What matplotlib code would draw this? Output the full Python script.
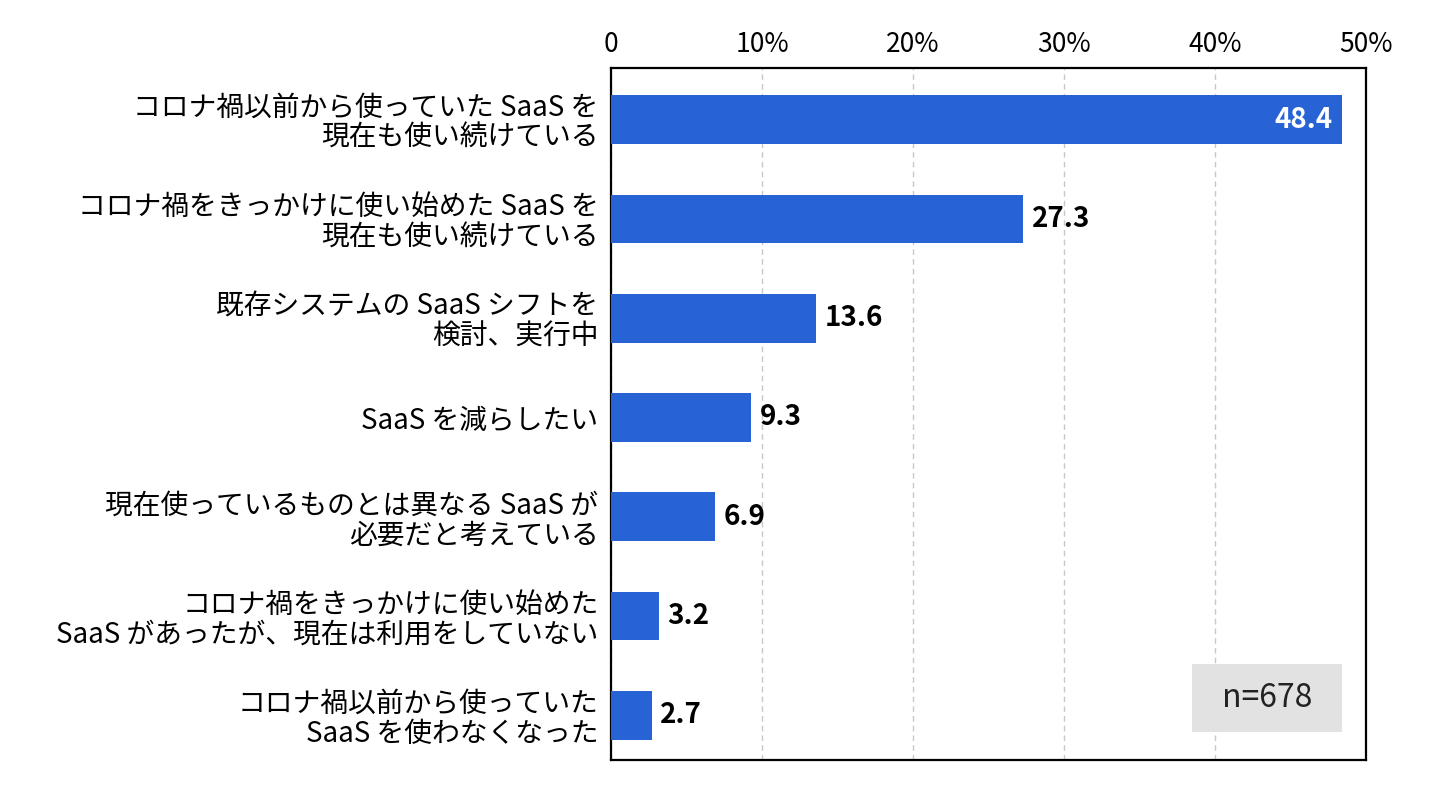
import matplotlib
matplotlib.use('Agg')
import matplotlib.pyplot as plt
from matplotlib.patches import Rectangle

plt.rcParams['font.family'] = ['Noto Sans CJK JP', 'DejaVu Sans']

# Survey answers (top to bottom) and their shares in %
categories = [
    'コロナ禍以前から使っていた SaaS を\n現在も使い続けている',
    'コロナ禍をきっかけに使い始めた SaaS を\n現在も使い続けている',
    '既存システムの SaaS シフトを\n検討、実行中',
    'SaaS を減らしたい',
    '現在使っているものとは異なる SaaS が\n必要だと考えている',
    'コロナ禍をきっかけに使い始めた\nSaaS があったが、現在は利用をしていない',
    'コロナ禍以前から使っていた\nSaaS を使わなくなった',
]
values = [48.4, 27.3, 13.6, 9.3, 6.9, 3.2, 2.7]
x_ticks = [0, 10, 20, 30, 40, 50]
x_tick_labels = ['0', '10%', '20%', '30%', '40%', '50%']
sample_note = 'n=678'

BAR_COLOR = '#2763d5'

fig = plt.figure(figsize=(14.44, 7.96), dpi=100)
ax = fig.add_axes([0.4231, 0.0452, 0.5229, 0.8694])

y_pos = list(range(len(values)))
ax.barh(y_pos, values, height=0.49, color=BAR_COLOR, zorder=3)

ax.set_xlim(0, 50)
ax.set_ylim(len(values) - 1 + 0.45, -0.52)

# value labels: the biggest one sits inside the bar in white
for i, v in enumerate(values):
    if i == 0:
        ax.text(v - 0.6, i, f'{v:.1f}', ha='right', va='center',
                color='white', fontsize=20, fontweight='bold', zorder=4)
    else:
        ax.text(v + 0.55, i, f'{v:.1f}', ha='left', va='center',
                color='black', fontsize=20, fontweight='bold', zorder=4)

ax.set_yticks(y_pos)
ax.set_yticklabels(categories, fontsize=20, linespacing=1.0, ha='right')
ax.tick_params(axis='y', length=0, pad=9)

ax.xaxis.tick_top()
ax.set_xticks(x_ticks)
ax.set_xticklabels(x_tick_labels, fontsize=19)
ax.tick_params(axis='x', length=0, pad=7)

ax.grid(axis='x', color='#c8c8c8', linestyle=(0, (4, 3)), linewidth=1, zorder=0)
for s in ax.spines.values():
    s.set_linewidth(1.6)
    s.set_color('black')

# sample size note in a grey box, bottom right
ax.add_patch(Rectangle((38.5, 5.48), 9.9, 0.69, facecolor='#e2e2e2',
                       edgecolor='none', zorder=5))
ax.text(38.5 + 9.9 / 2, 5.48 + 0.69 / 2, sample_note, ha='center', va='center',
        fontsize=23, color='#222222', zorder=6)

fig.savefig('out.png', dpi=100, facecolor='white')
